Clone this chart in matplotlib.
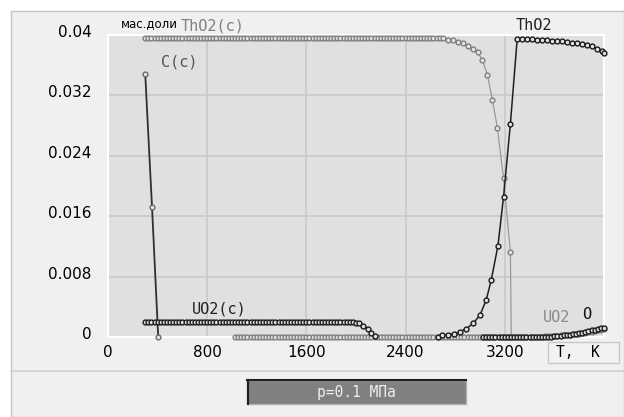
import matplotlib
matplotlib.use('Agg')
import matplotlib.pyplot as plt
import matplotlib.patches as mpatches
from matplotlib.transforms import ScaledTranslation
import numpy as np

# --- data (T in K, mass fraction) ---
t_tho2c = np.concatenate([np.arange(300, 2701, 25),
                          [2740, 2780, 2820, 2860, 2900, 2940, 2980, 3020, 3060, 3100, 3140, 3190, 3245, 3252]])
v_tho2c = ([0.0396] * 97 +
           [0.0394, 0.0393, 0.0391, 0.0389, 0.0386, 0.0382, 0.0377, 0.0367,
            0.0347, 0.0314, 0.0277, 0.0210, 0.0113, 0.0])

t_c = [300, 355, 405]
v_c = [0.0349, 0.0172, 0.0]

t_uo2c = np.concatenate([np.arange(300, 2026, 25), [2060, 2095, 2125, 2155]])
v_uo2c = [0.0020] * 67 + [0.00197, 0.0019, 0.0018] + [0.0015, 0.001, 0.0005, 0.0001]

t_uo2 = np.arange(1025, 4001, 25)
v_uo2 = ([0.0] * 99 +
         [0.00005, 0.00007, 0.0001, 0.00012, 0.00015, 0.00018, 0.0002, 0.00023, 0.00027,
          0.0003, 0.00034, 0.00038, 0.00043, 0.00048, 0.00054, 0.0006, 0.00068, 0.00077,
          0.00087, 0.00098, 0.0011])

t_o = np.arange(3025, 4001, 25)
v_o = ([0.0] * 20 +
       [0.00002, 0.00004, 0.00006, 0.00009, 0.00012, 0.00016, 0.0002, 0.00025, 0.0003,
        0.00036, 0.00043, 0.0005, 0.00058, 0.00067, 0.00077, 0.00088, 0.00098, 0.00108,
        0.00115, 0.0012])

t_tho2 = np.concatenate([[2660, 2690, 2740, 2790, 2840, 2890, 2945, 3000, 3050, 3090, 3145, 3190, 3245],
                         np.arange(3300, 3981, 40), [4000]])
v_tho2 = ([0.0, 0.0002, 0.0003, 0.00045, 0.0007, 0.0011, 0.0018, 0.0029, 0.0049, 0.0075,
           0.0121, 0.0186, 0.0282] +
          [0.0395, 0.0395, 0.03948, 0.03945, 0.0394, 0.03935, 0.0393, 0.03925, 0.0392,
           0.03915, 0.0391, 0.0390, 0.0389, 0.0388, 0.0387, 0.0385, 0.0382, 0.0379] +
          [0.0376])

x_ticks = [0, 800, 1600, 2400, 3200]
y_ticks = [0, 0.008, 0.016, 0.024, 0.032, 0.04]
y_labels = ['0', '0.008', '0.016', '0.024', '0.032', '0.04']

W, H = 624, 417


def fx(x):
    return x / W


def fy(y):
    return 1 - y / H


fig = plt.figure(figsize=(W / 100, H / 100), dpi=100)
fig.patch.set_facecolor('white')

# outer panel (behind the axes)
fig.patches.append(mpatches.Rectangle((fx(11), 0), 1 - fx(11), fy(10.5), transform=fig.transFigure,
                                      facecolor='#f0f0f0', edgecolor='#c4c4c4', lw=1, zorder=-10))
fig.lines.append(plt.Line2D([fx(11), 1], [fy(371), fy(371)], transform=fig.transFigure,
                            color='#cfcfcf', lw=1.2, zorder=-5))

ax = fig.add_axes([fx(108), fy(337), (604 - 108) / W, (337 - 35) / H])
ax.set_facecolor('#e0e0e0')
for s in ax.spines.values():
    s.set_color('white')
    s.set_linewidth(1.5)
ax.set_xlim(0, 4000)
ax.set_ylim(0, 0.04)
ax.set_xticks(x_ticks)
ax.set_yticks(y_ticks)
ax.set_yticklabels(y_labels)
ax.grid(True, color='#c9c9c9', lw=1.2, zorder=0)
ax.set_axisbelow(True)
ax.tick_params(length=0, labelsize=11, colors='black')
ax.tick_params(axis='y', pad=12)
ax.tick_params(axis='x', pad=6)
for lab in ax.get_yticklabels():
    lab.set_transform(lab.get_transform() + ScaledTranslation(0, 4 / 100, fig.dpi_scale_trans))

gray_kw = dict(color='#9a9a9a', lw=0.9, marker='o', ms=3.5, mew=0.9,
               mec='#787878', mfc='#e2e2e2', clip_on=False)
black_kw = dict(color='#202020', lw=1.1, marker='o', ms=3.5, mew=1.0,
                mec='#1a1a1a', mfc='#e2e2e2', clip_on=False)

ax.plot(t_uo2, v_uo2, zorder=3, **gray_kw)
ax.plot(t_tho2c, v_tho2c, zorder=3, **gray_kw)
ax.plot(t_c, v_c, color='#303030', lw=1.3, marker='o', ms=3.5, mew=0.9,
        mec='#606060', mfc='#e2e2e2', zorder=4, clip_on=False)
ax.plot(t_uo2c, v_uo2c, zorder=4, **black_kw)
ax.plot(t_o, v_o, zorder=4, **black_kw)
ax.plot(t_tho2, v_tho2, zorder=5, **black_kw)

mono = 'DejaVu Sans Mono'
fig.text(fx(121), fy(27), 'мас.доли', fontsize=8.5, color='black', va='baseline', ha='left')
fig.text(fx(181), fy(26), 'ThO2(c)', fontsize=11, family=mono, color='#808080', va='center', ha='left')
fig.text(fx(161), fy(62), 'C(c)', fontsize=11, family=mono, color='#555555', va='center', ha='left')
fig.text(fx(516), fy(25.5), 'ThO2', fontsize=11, family=mono, color='#222222', va='center', ha='left')
fig.text(fx(192), fy(308.5), 'UO2(c)', fontsize=11, family=mono, color='#222222', va='center', ha='left')
fig.text(fx(543), fy(318), 'UO2', fontsize=11, family=mono, color='#8a8a8a', va='center', ha='left')
fig.text(fx(582), fy(314.5), 'O', fontsize=11, family=mono, color='#111111', va='center', ha='left')

# axis unit box
fig.patches.append(mpatches.Rectangle((fx(548), fy(363)), (619 - 548) / W, (363 - 342) / H,
                                      transform=fig.transFigure, facecolor='#f2f2f2',
                                      edgecolor='#c8c8c8', lw=1))
fig.text(fx(556), fy(352.5), 'T,  K', fontsize=10.5, family=mono, color='black', va='center', ha='left')

# pressure box
fig.patches.append(mpatches.Rectangle((fx(247), fy(404)), (466 - 247) / W, (404 - 379.5) / H,
                                      transform=fig.transFigure, facecolor='#808080',
                                      edgecolor='#b0b0b0', lw=1))
fig.lines.append(plt.Line2D([fx(247), fx(466)], [fy(380), fy(380)], transform=fig.transFigure,
                            color='#202020', lw=1.5))
fig.lines.append(plt.Line2D([fx(247.5), fx(247.5)], [fy(380), fy(404)], transform=fig.transFigure,
                            color='#202020', lw=1.5))
fig.text(fx(356), fy(393), 'p=0.1 МПа', fontsize=10.5, family=mono, color='#eeeeee',
         va='center', ha='center')

fig.savefig('out.png', dpi=100, facecolor=fig.get_facecolor())
plt.close(fig)
